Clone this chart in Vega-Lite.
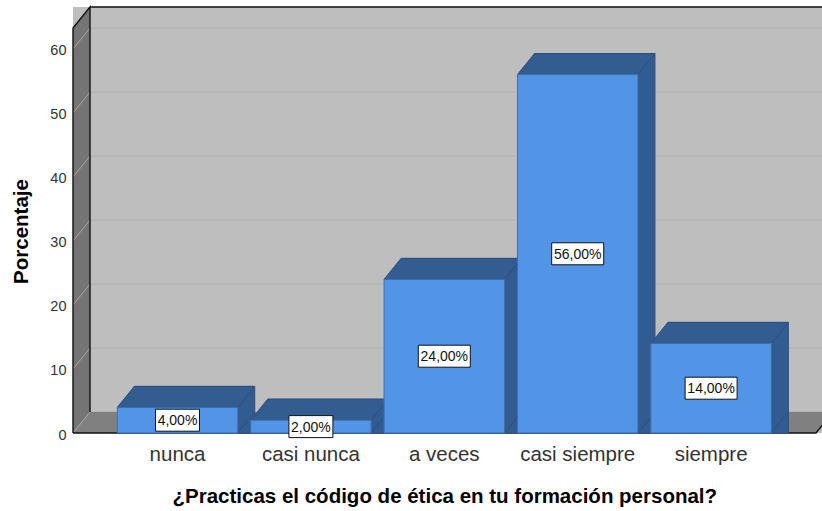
{
"$schema":"https://vega.github.io/schema/vega-lite/v6.json",
"width":749,"height":426,
"autosize":{"type":"none"},
"padding":{"left":73,"top":7,"right":0,"bottom":78},
"background":"white",
"view":{"fill":"#bebebe","stroke":null},
"config":{"font":"Liberation Sans"},
"data":{"values":[
{"categoria":"nunca","porcentaje":4,"etiqueta":"4,00%"},
{"categoria":"casi nunca","porcentaje":2,"etiqueta":"2,00%"},
{"categoria":"a veces","porcentaje":24,"etiqueta":"24,00%"},
{"categoria":"casi siempre","porcentaje":56,"etiqueta":"56,00%"},
{"categoria":"siempre","porcentaje":14,"etiqueta":"14,00%"}
]},
"resolve":{"scale":{"x":"independent","y":"independent"}},
"layer":[
{"layer":[
{"data":{"values":[{"marca":0},{"marca":10},{"marca":20},{"marca":30},{"marca":40},{"marca":50},{"marca":60}]},
 "mark":{"type":"rule","stroke":"#afafaf","strokeWidth":1,"yOffset":-21,"y2Offset":-21},
 "encoding":{"y":{"field":"marca","type":"quantitative","scale":{"domain":[0,66.56],"range":[426,0],"nice":false},
  "axis":{"values":[0,10,20,30,40,50,60],"grid":false,"ticks":false,"domain":false,"labelFontSize":14.5,"labelColor":"#333333","labelPadding":7,"labelOffset":2,"title":"Porcentaje","titleFontSize":20.5,"titleFontWeight":"bold","titleColor":"black","titlePadding":18,"titleY":224}}}},
{"data":{"values":[{"origen":0,"base":0}]},
 "mark":{"type":"point","filled":true,"size":4,"fill":"#747474","opacity":1,"stroke":null,"shape":"M0,0 L0,-405 L17,-426 L17,-21 Z"},
 "encoding":{"x":{"field":"origen","type":"quantitative","scale":{"domain":[0,1],"range":[0,749]},"axis":null},
  "y":{"field":"base","type":"quantitative"}}},
{"data":{"values":[{"origen":0,"base":0}]},
 "mark":{"type":"point","filled":true,"size":4,"fill":"#808080","opacity":1,"stroke":null,"shape":"M0,0 L743,0 L760,-21 L17,-21 Z"},
 "encoding":{"x":{"field":"origen","type":"quantitative","scale":{"domain":[0,1],"range":[0,749]},"axis":null},
  "y":{"field":"base","type":"quantitative"}}},
{"data":{"values":[{"origen":0,"marca":0},{"origen":0,"marca":10},{"origen":0,"marca":20},{"origen":0,"marca":30},{"origen":0,"marca":40},{"origen":0,"marca":50},{"origen":0,"marca":60}]},
 "mark":{"type":"point","size":4,"filled":false,"fill":null,"stroke":"#a9a9a9","strokeWidth":1,"opacity":1,"shape":"M0,0 L17,-21"},
 "encoding":{"x":{"field":"origen","type":"quantitative","scale":{"domain":[0,1],"range":[0,749]},"axis":null},
  "y":{"field":"marca","type":"quantitative"}}},
{"data":{"values":[{"origen":0,"base":0}]},
 "mark":{"type":"point","size":4,"filled":false,"fill":null,"stroke":"#111111","strokeWidth":1.4,"opacity":1,"shape":"M0,0 L0,-405 L17,-426 L17,-21 M17,-426 L760,-426 M0,0 L743,0 L760,-21"},
 "encoding":{"x":{"field":"origen","type":"quantitative","scale":{"domain":[0,1],"range":[0,749]},"axis":null},
  "y":{"field":"base","type":"quantitative"}}}
]},
{"encoding":{
 "x":{"field":"categoria","type":"nominal","sort":null,"scale":{"domain":["nunca","casi nunca","a veces","casi siempre","siempre"],"range":[37.8,704.8],"paddingInner":0.0967,"paddingOuter":0.0483},
  "axis":{"labelAngle":0,"ticks":false,"domain":false,"grid":false,"labelFontSize":20.5,"labelColor":"#333333","labelPadding":11,"title":"¿Practicas el código de ética en tu formación personal?","titleFontSize":20.5,"titleFontWeight":"bold","titleColor":"black","titlePadding":22}},
 "y":{"field":"porcentaje","type":"quantitative","stack":null,"scale":{"domain":[0,66.56],"range":[426,0],"nice":false},"axis":null}},
 "layer":[
 {"mark":{"type":"bar","fill":"#335c91","stroke":"#2c5080","strokeWidth":1,"xOffset":17,"x2Offset":17,"yOffset":-21,"y2Offset":-21}},
 {"mark":{"type":"bar","fill":"#335c91","xOffset":16,"x2Offset":16,"yOffset":-19.8,"y2Offset":-19.8}},
 {"mark":{"type":"bar","fill":"#335c91","xOffset":15,"x2Offset":15,"yOffset":-18.5,"y2Offset":-18.5}},
 {"mark":{"type":"bar","fill":"#335c91","xOffset":14,"x2Offset":14,"yOffset":-17.3,"y2Offset":-17.3}},
 {"mark":{"type":"bar","fill":"#335c91","xOffset":13,"x2Offset":13,"yOffset":-16.1,"y2Offset":-16.1}},
 {"mark":{"type":"bar","fill":"#335c91","xOffset":12,"x2Offset":12,"yOffset":-14.8,"y2Offset":-14.8}},
 {"mark":{"type":"bar","fill":"#335c91","xOffset":11,"x2Offset":11,"yOffset":-13.6,"y2Offset":-13.6}},
 {"mark":{"type":"bar","fill":"#335c91","xOffset":10,"x2Offset":10,"yOffset":-12.4,"y2Offset":-12.4}},
 {"mark":{"type":"bar","fill":"#335c91","xOffset":9,"x2Offset":9,"yOffset":-11.1,"y2Offset":-11.1}},
 {"mark":{"type":"bar","fill":"#335c91","xOffset":8,"x2Offset":8,"yOffset":-9.9,"y2Offset":-9.9}},
 {"mark":{"type":"bar","fill":"#335c91","xOffset":7,"x2Offset":7,"yOffset":-8.6,"y2Offset":-8.6}},
 {"mark":{"type":"bar","fill":"#335c91","xOffset":6,"x2Offset":6,"yOffset":-7.4,"y2Offset":-7.4}},
 {"mark":{"type":"bar","fill":"#335c91","xOffset":5,"x2Offset":5,"yOffset":-6.2,"y2Offset":-6.2}},
 {"mark":{"type":"bar","fill":"#335c91","xOffset":4,"x2Offset":4,"yOffset":-4.9,"y2Offset":-4.9}},
 {"mark":{"type":"bar","fill":"#335c91","xOffset":3,"x2Offset":3,"yOffset":-3.7,"y2Offset":-3.7}},
 {"mark":{"type":"bar","fill":"#335c91","xOffset":2,"x2Offset":2,"yOffset":-2.5,"y2Offset":-2.5}},
 {"mark":{"type":"bar","fill":"#335c91","xOffset":1,"x2Offset":1,"yOffset":-1.2,"y2Offset":-1.2}},
 {"mark":{"type":"point","filled":true,"size":4,"opacity":1,"fill":"#335c91","stroke":"#2c5080","strokeWidth":1,"shape":"M-60.25,0 L60.25,0 L77.25,-21 L-43.25,-21 Z"}},
 {"mark":{"type":"point","size":4,"filled":false,"fill":null,"opacity":1,"stroke":"#2c5080","strokeWidth":1,"shape":"M60.25,0 L77.25,-21"},
  "encoding":{"y":{"datum":0}}},
 {"mark":{"type":"bar","fill":"#5294e6","stroke":"#3f6ea8","strokeWidth":1}}
 ]},
{"encoding":{
 "x":{"field":"categoria","type":"nominal","sort":null,"scale":{"domain":["nunca","casi nunca","a veces","casi siempre","siempre"],"range":[37.8,704.8],"paddingInner":0.0967,"paddingOuter":0.0483},"axis":null},
 "y":{"field":"porcentaje","type":"quantitative","stack":null,"scale":{"domain":[0,133.12],"range":[426,0],"nice":false},"axis":null}},
 "layer":[
 {"mark":{"type":"point","filled":true,"size":4,"opacity":1,"fill":"white","stroke":"#111111","strokeWidth":1},
  "encoding":{"shape":{"field":"etiqueta","type":"nominal","legend":null,"scale":{
   "domain":["4,00%","2,00%","24,00%","56,00%","14,00%"],
   "range":["M-22,-11 H22 V11 H-22 Z","M-22,-11 H22 V11 H-22 Z","M-26,-11 H26 V11 H-26 Z","M-26,-11 H26 V11 H-26 Z","M-26,-11 H26 V11 H-26 Z"]}}}},
 {"mark":{"type":"text","fontSize":14,"color":"#111111","align":"center","baseline":"middle","dy":1},
  "encoding":{"text":{"field":"etiqueta","type":"nominal"}}}
 ]}
]
}
